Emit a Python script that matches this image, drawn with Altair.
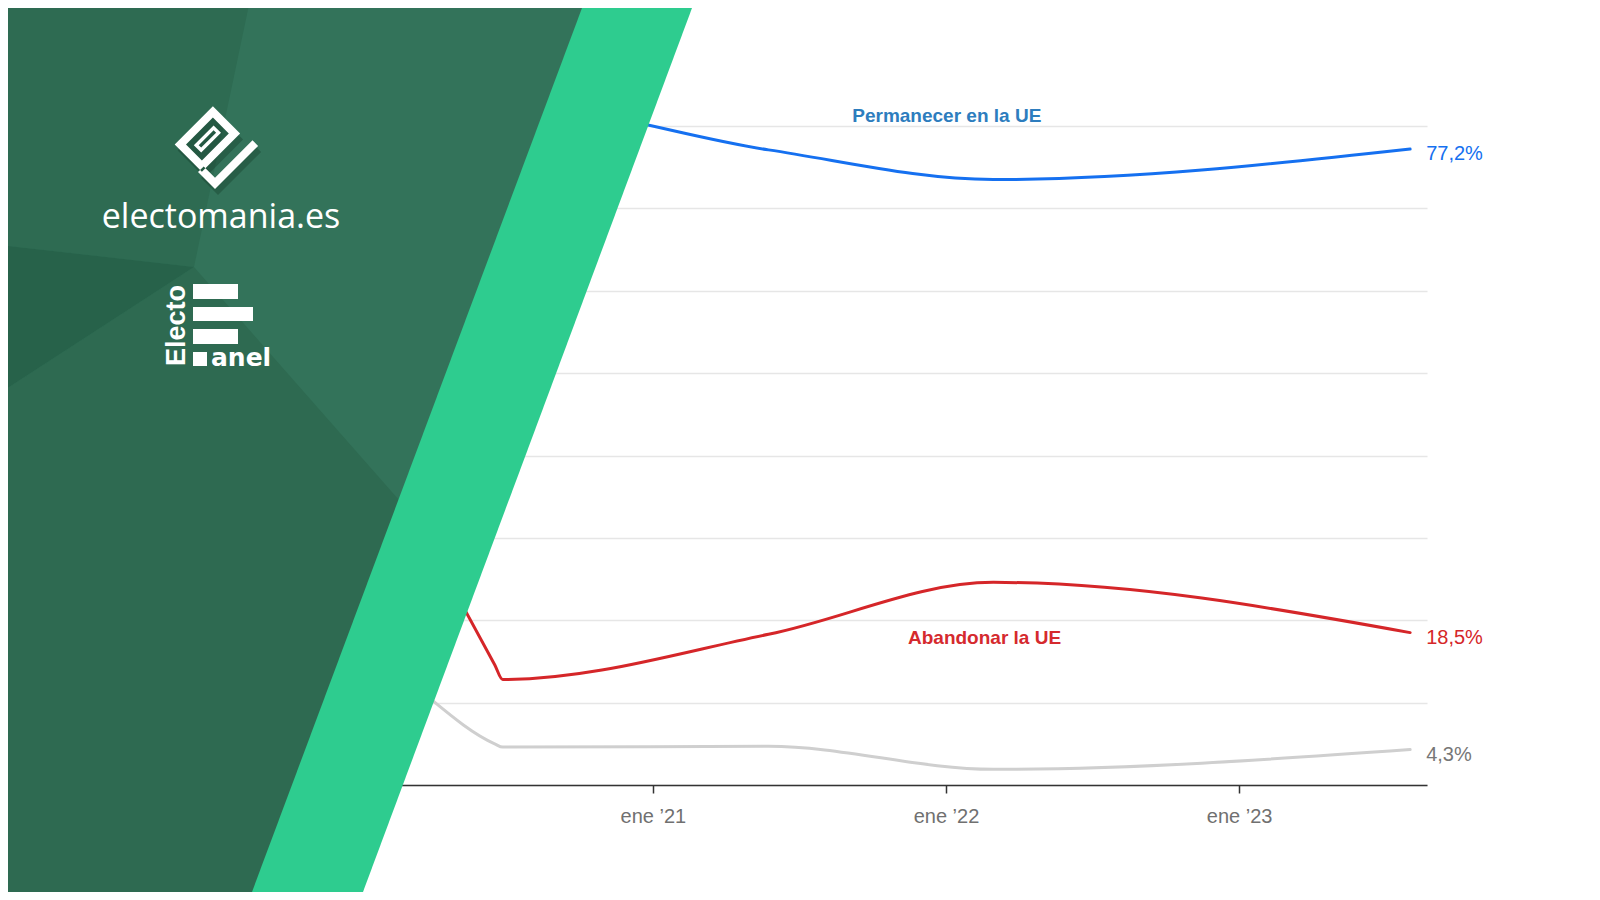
import math
import altair as alt

# ---------------- data ----------------
dates = ["2020-04-01", "2020-06-18", "2020-06-28", "2021-05-25", "2022-03-01", "2023-08-02"]
permanecer = [61.1, 80.4, 82.6, 77.1, 73.5, 77.2]
abandonar = [28.6, 14.6, 12.8, 18.3, 24.6, 18.5]
ns_nc = [10.3, 5.0, 4.6, 4.7, 1.9, 4.3]

series_names = ["Ns/Nc", "Abandonar la UE", "Permanecer en la UE"]
series_values = [ns_nc, abandonar, permanecer]
line_colors = ["#cfcfcf", "#d52629", "#1570f0"]
end_label_colors = ["#777777", "#d52629", "#1570f0"]

name_labels = ["Permanecer en la UE", "Abandonar la UE"]
name_label_dates = ["2022-01-02", "2022-02-18"]
name_label_values = [80.5, 17.1]
name_label_colors = ["#2d7dbe", "#d52a2e"]

x_tick_years = [2021, 2022, 2023]
y_grid_values = [0, 10, 20, 30, 40, 50, 60, 70, 80]

# ---------------- layout (page pixels) ----------------
SVG_W, SVG_H = 1584, 884
PLOT_LEFT, PLOT_TOP = 310, 126          # page coords of plot origin
PLOT_W, PLOT_H = 1117, 659
PAD = {"left": PLOT_LEFT - 8, "top": PLOT_TOP - 8,
       "right": SVG_W - (PLOT_LEFT - 8) - PLOT_W,
       "bottom": SVG_H - (PLOT_TOP - 8) - PLOT_H}
FONT = "Liberation Sans"

# ---------------- tables ----------------
line_rows = [{"date": d, "value": v, "series": s}
             for s, vals in zip(series_names, series_values)
             for d, v in zip(dates, vals)]
end_rows = [{"date": dates[-1], "value": vals[-1],
             "text": f"{vals[-1]:.1f}".replace(".", ",") + "%", "color": c}
            for vals, c in zip(series_values, end_label_colors)]
name_rows = [{"date": d, "value": v, "text": t, "color": c}
             for t, d, v, c in zip(name_labels, name_label_dates, name_label_values, name_label_colors)]

X = alt.X(
    "date:T",
    scale=alt.Scale(type="utc", domain=[alt.DateTime(year=2019, month=11, date=1, utc=True),
                                         alt.DateTime(year=2023, month=8, date=23, utc=True)]),
    axis=alt.Axis(
        values=[alt.DateTime(year=y, month=1, date=1, utc=True) for y in x_tick_years],
        labelExpr="'ene \u2019' + utcFormat(datum.value, '%y')",
        title=None, grid=False,
        domainColor="#333333", domainWidth=1.5,
        tickColor="#333333", tickWidth=1.5, tickSize=8,
        labelColor="#707070", labelFontSize=20, labelFont=FONT, labelPadding=13,
    ),
)
Y = alt.Y(
    "value:Q",
    scale=alt.Scale(domain=[0, 80], nice=False, zero=True),
    axis=alt.Axis(values=y_grid_values, labels=False, ticks=False, domain=False,
                  title=None, gridColor="#e6e6e6", gridWidth=1.5),
)

lines = alt.Chart(alt.Data(values=line_rows)).mark_line(
    interpolate="monotone", strokeWidth=3, strokeCap="round"
).encode(
    x=X, y=Y,
    color=alt.Color("series:N", scale=alt.Scale(domain=series_names, range=line_colors), legend=None),
)

end_labels = alt.Chart(alt.Data(values=end_rows)).mark_text(
    align="left", baseline="alphabetic", dx=16, dy=11, fontSize=20, font=FONT
).encode(x=X, y=Y, text="text:N", fill=alt.Fill("color:N", scale=None))

name_text = alt.Chart(alt.Data(values=name_rows)).mark_text(
    align="center", baseline="alphabetic", fontSize=19, font=FONT, fontWeight="bold"
).encode(x=X, y=Y, text="text:N", fill=alt.Fill("color:N", scale=None))


# ---------------- decorative branding panel ----------------
def poly(pts):
    return "M" + " L".join(f"{x:.1f},{y:.1f}" for x, y in pts) + " Z"


def rot(p, q, ox=215.0, oy=189.0):
    s = math.sqrt(2)
    return (ox + (p + q) / s, oy + (p - q) / s)


def rpoly(pq, dx=0.0, dy=0.0):
    return poly([(x + dx, y + dy) for x, y in (rot(p, q) for p, q in pq)])


frame_outer = [(-60, 3), (-60, 57), (-21.5, 57), (-21.5, 3)]
frame_inner = [(-52, 11), (-29.5, 11), (-29.5, 49), (-52, 49)]
check = [(0, 0), (0, 61), (-8, 61), (-8, 8), (-24, 8), (-24, 0)]
slot_outer = [(-46, 16), (-46, 44), (-35.5, 44), (-35.5, 16)]
slot_inner = [(-42.5, 19.5), (-39, 19.5), (-39, 40.5), (-42.5, 40.5)]

logo_path = rpoly(frame_outer) + " " + rpoly(frame_inner) + " " + rpoly(check) + " " + \
    rpoly(slot_outer) + " " + rpoly(slot_inner)
shadow_path = rpoly(frame_outer, 3, 6) + " " + rpoly(check, 3, 6)

decor_rows = [
    {"path": poly([(0, 0), (592, 0), (256, 900), (0, 900)]), "fill": "#33735a"},
    {"path": poly([(0, 0), (250, 0), (194, 267), (0, 245)]), "fill": "#2e6b52"},
    {"path": poly([(0, 393), (194, 267), (399, 500), (254, 900), (0, 900)]), "fill": "#2e6a51"},
    {"path": poly([(0, 245), (194, 267), (0, 393)]), "fill": "#27624a"},
    {"path": poly([(585, 0), (695, 0), (360, 900), (249, 900)]), "fill": "#2ecc8f"},
    {"path": shadow_path, "fill": "rgba(18,55,38,0.35)"},
    {"path": logo_path, "fill": "#ffffff"},
    {"path": poly([(193, 284), (238, 284), (238, 299), (193, 299)]), "fill": "#ffffff"},
    {"path": poly([(193, 307), (253, 307), (253, 321), (193, 321)]), "fill": "#ffffff"},
    {"path": poly([(193, 329), (238, 329), (238, 344), (193, 344)]), "fill": "#ffffff"},
    {"path": poly([(193, 352), (207, 352), (207, 366), (193, 366)]), "fill": "#ffffff"},
]

decor = alt.Chart(alt.Data(values=decor_rows)).mark_point(
    filled=True, size=4, opacity=1, strokeWidth=0
).encode(
    x=alt.value(-PLOT_LEFT), y=alt.value(-PLOT_TOP),
    shape=alt.Shape("path:N", scale=None),
    fill=alt.Fill("fill:N", scale=None),
)


def page_text(txt, px, py, **kw):
    return alt.Chart(alt.Data(values=[{"t": txt}])).mark_text(
        fill="#ffffff", **kw
    ).encode(x=alt.value(px - PLOT_LEFT), y=alt.value(py - PLOT_TOP), text="t:N")


brand = page_text("electomania.es", 221, 228, font="Open Sans", fontSize=34,
                  align="center", baseline="alphabetic")
electo = page_text("Electo", 185, 366, font=FONT, fontSize=27, fontWeight="bold",
                   angle=270, align="left", baseline="alphabetic")
anel = page_text("anel", 211, 366, font="DejaVu Sans", fontSize=25, fontWeight="bold",
                 align="left", baseline="alphabetic")

chart = alt.layer(lines, end_labels, name_text, decor, brand, electo, anel).properties(
    width=PLOT_W, height=PLOT_H,
    autosize=alt.AutoSizeParams(type="none"),
    padding=PAD,
    background="#ffffff",
).configure_view(stroke=None)

chart.save("out.html", embed_options={"renderer": "svg", "actions": False})
